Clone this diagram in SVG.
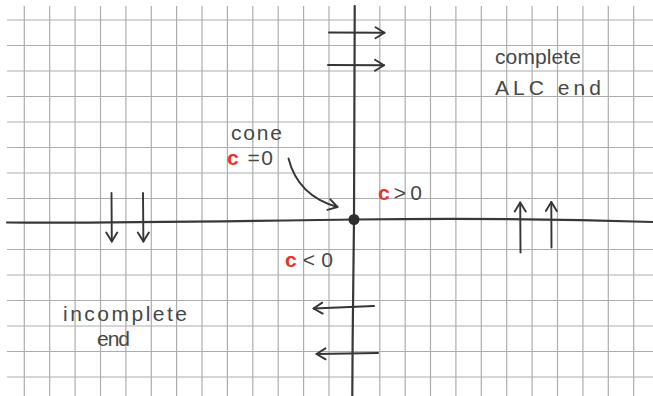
<svg xmlns="http://www.w3.org/2000/svg" width="653" height="396" viewBox="0 0 653 396">
<defs>
<style>
.grid{fill:none;stroke:#adadad;stroke-width:1.2}
.axis{fill:none;stroke:#383838;stroke-width:2.2;stroke-linecap:round}
.arr{fill:none;stroke:#353535;stroke-width:1.9;stroke-linecap:round;marker-end:url(#head)}
.lbl{font-family:"Liberation Sans",Arial,sans-serif;font-size:21px;fill:#474747}
.red{fill:#e8332c;font-weight:bold}
</style>
<marker id="head" markerUnits="userSpaceOnUse" markerWidth="14" markerHeight="14" viewBox="0 0 14 14" refX="12" refY="7" orient="auto">
<path d="M3,1.5 L12,7 L3,12.5" fill="none" stroke="#353535" stroke-width="1.9" stroke-linecap="round" stroke-linejoin="round"/>
</marker>
</defs>
<rect width="653" height="396" fill="#ffffff"/>
<g id="grid">
<path class="grid" d="M24.3 6V396M49.7 6V396M75.1 6V396M100.5 6V396M125.9 6V396M151.3 6V396M176.6 6V396M202 6V396M227.4 6V396M252.8 6V396M278.2 6V396M303.6 6V396M329 6V396M379.8 6V396M405.2 6V396M430.5 6V396M455.9 6V396M481.3 6V396M506.7 6V396M532.1 6V396M557.5 6V396M582.9 6V396M608.3 6V396M633.7 6V396"/>
<path class="grid" d="M7 20H653M7 45.5H653M7 71H653M7 96.5H653M7 122H653M7 147.5H653M7 173H653M7 198.5H653M7 249.5H653M7 275H653M7 300.5H653M7 326H653M7 351.5H653M7 377H653"/>
</g>
<g id="axes">
<path class="axis" d="M7 222.5 C100 223.5, 250 221, 354 219.5 S560 219, 653 222"/>
<path class="axis" d="M354.7 6 C354.6 100, 354.2 200, 354 219.5 S352.5 330, 352.3 396"/>
</g>
<g id="cone-point">
<circle cx="354" cy="219.5" r="5.5" fill="#2e2e2e"/>
</g>
<g id="connectors">
<path class="arr" d="M329 32.5 L384.5 32.8"/>
<path class="arr" d="M328 65 L384 65.3"/>
<path class="arr" d="M374 306 L313.5 308.5"/>
<path class="arr" d="M378 353 L316.5 354"/>
<path class="arr" d="M111.5 193 L111.8 241.5"/>
<path class="arr" d="M143 193 L143.4 241.5"/>
<path class="arr" d="M520.5 252.5 L520.2 202.5"/>
<path class="arr" d="M551.5 247.5 L551.3 202"/>
<path class="arr" d="M288.5 158.5 Q298 196, 337.5 207"/>
</g>
<g id="label-complete">
<text class="lbl" x="495" y="64" textLength="86" lengthAdjust="spacing">complete</text>
<text class="lbl" x="495" y="95" textLength="106" lengthAdjust="spacing">ALC  end</text>
</g>
<g id="label-cone">
<text class="lbl" x="231" y="140" textLength="51" lengthAdjust="spacing">cone</text>
<text class="lbl" x="227" y="165" textLength="46" lengthAdjust="spacing"><tspan class="red">c</tspan> =0</text>
</g>
<g id="label-cpos">
<text class="lbl" x="378" y="200" textLength="44" lengthAdjust="spacing"><tspan class="red">c</tspan>&gt;0</text>
</g>
<g id="label-cneg">
<text class="lbl" x="285" y="267" textLength="48" lengthAdjust="spacing"><tspan class="red">c</tspan>&lt;0</text>
</g>
<g id="label-incomplete">
<text class="lbl" x="63" y="321" textLength="124" lengthAdjust="spacing">incomplete</text>
<text class="lbl" x="97" y="346" textLength="33" lengthAdjust="spacing">end</text>
</g>
</svg>
